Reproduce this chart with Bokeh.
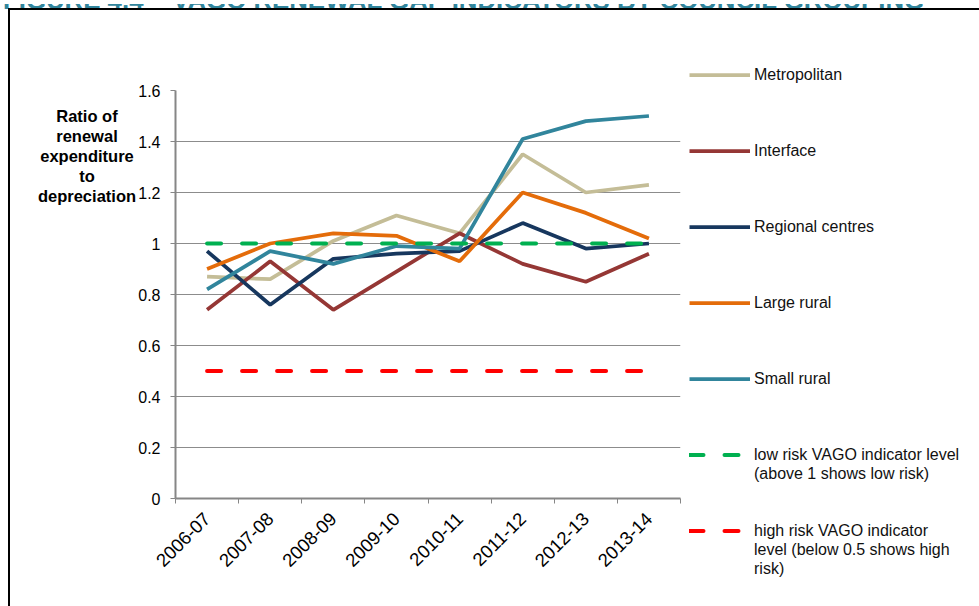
import math
from bokeh.plotting import figure
from bokeh.layouts import column
from bokeh.models import Range1d, FixedTicker, Legend, LegendItem, CustomJSTickFormatter, Div
from bokeh.embed import file_html
from bokeh.resources import INLINE

# ---- data ----
years = ["2006-07", "2007-08", "2008-09", "2009-10", "2010-11", "2011-12", "2012-13", "2013-14"]
metropolitan = [0.87, 0.86, 1.01, 1.11, 1.04, 1.35, 1.20, 1.23]
interface = [0.74, 0.93, 0.74, 0.89, 1.04, 0.92, 0.85, 0.96]
regional_centres = [0.97, 0.76, 0.94, 0.96, 0.97, 1.08, 0.98, 1.00]
large_rural = [0.90, 1.00, 1.04, 1.03, 0.93, 1.20, 1.12, 1.02]
small_rural = [0.82, 0.97, 0.92, 0.99, 0.98, 1.41, 1.48, 1.50]
low_risk = [1, 1, 1, 1, 1, 1, 1, 1]
high_risk = [0.5, 0.5, 0.5, 0.5, 0.5, 0.5, 0.5, 0.5]
y_ticks = [0, 0.2, 0.4, 0.6, 0.8, 1.0, 1.2, 1.4, 1.6]
title_text = "FIGURE 4.4 \u2013 VAGO RENEWAL GAP INDICATORS BY COUNCIL GROUPING"
y_label_lines = ["Ratio of", "renewal", "expenditure", "to", "depreciation"]
series_labels = [
    ["Metropolitan"],
    ["Interface"],
    ["Regional centres"],
    ["Large rural"],
    ["Small rural"],
    ["low risk VAGO indicator level", "(above 1 shows low risk)"],
    ["high risk VAGO indicator", "level (below 0.5 shows high", "risk)"],
]

FONT = "Liberation Sans"

# category slot centres and boundaries on a numeric axis
xs = [i + 0.5 for i in range(len(years))]
bounds = [float(i) for i in range(len(years) + 1)]

p = figure(frame_width=503, frame_height=406, output_backend="svg", toolbar_location=None,
           x_range=Range1d(0, len(years)), y_range=Range1d(0, 1.6))
p.min_border_left = 165
p.min_border_right = 301
p.min_border_top = 80
p.min_border_bottom = 110
p.outline_line_color = None
p.background_fill_color = "white"
p.border_fill_color = "white"
p.styles = {"margin-left": "8px", "border-top": "2px solid black", "border-left": "2px solid black"}

# grid
p.xgrid.grid_line_color = None
p.ygrid.grid_line_color = "#8c8c8c"
p.ygrid.grid_line_width = 1
p.ygrid.ticker = FixedTicker(ticks=y_ticks)

# y axis
p.yaxis.ticker = FixedTicker(ticks=y_ticks)
p.yaxis.formatter = CustomJSTickFormatter(code="return String(parseFloat(tick.toFixed(1)));")
p.yaxis.axis_line_color = "#868686"
p.yaxis.axis_line_width = 2
p.yaxis.major_tick_line_color = "#868686"
p.yaxis.major_tick_out = 5
p.yaxis.major_tick_in = 0
p.yaxis.minor_tick_line_color = None
p.yaxis.major_label_text_font = FONT
p.yaxis.major_label_text_font_size = "16px"
p.yaxis.major_label_text_color = "black"
p.yaxis.major_label_standoff = 10

# x axis: labels at slot centres, tick marks at slot boundaries
p.xaxis.ticker = FixedTicker(ticks=xs, minor_ticks=bounds)
p.xaxis.major_label_overrides = {x: y for x, y in zip(xs, years)}
p.xaxis.axis_line_color = "#868686"
p.xaxis.axis_line_width = 2
p.xaxis.major_tick_line_color = None
p.xaxis.minor_tick_line_color = "#868686"
p.xaxis.minor_tick_out = 5
p.xaxis.minor_tick_in = 0
p.xaxis.major_label_orientation = math.pi / 4
p.xaxis.major_label_text_font = FONT
p.xaxis.major_label_text_font_size = "18.5px"
p.xaxis.major_label_text_color = "black"
p.xaxis.major_label_standoff = 11

# series
lw = 3.75
colors = ["#C4BD97", "#953735", "#17375E", "#E46C0A", "#31859C"]
data = [metropolitan, interface, regional_centres, large_rural, small_rural]
renderers = []
for ys, c in zip(data, colors):
    renderers.append(p.line(xs, ys, line_color=c, line_width=lw))
renderers.append(p.line(xs, low_risk, line_color="#00B050", line_width=4, line_dash="14 21", line_cap="round"))
renderers.append(p.line(xs, high_risk, line_color="#FF0000", line_width=4, line_dash="14 21", line_cap="round"))

# invisible renderer used for legend continuation / spacer rows
blank = p.line([], [], line_alpha=0)

# legend laid out on a uniform row grid: each entry takes 4 rows
ROWS_PER_ENTRY = 4
items = []
for k, (labels, r) in enumerate(zip(series_labels, renderers)):
    rows = [LegendItem(label=labels[0], renderers=[r])]
    rows += [LegendItem(label=t, renderers=[blank]) for t in labels[1:]]
    if k < len(series_labels) - 1:
        rows += [LegendItem(label=" ", renderers=[blank]) for _ in range(ROWS_PER_ENTRY - len(labels))]
    items += rows

legend = Legend(items=items, location=(9, -80), orientation="vertical", ncols=1,
                glyph_width=61, glyph_height=19, label_height=19, spacing=0,
                padding=0, margin=0, label_standoff=4,
                label_text_font=FONT, label_text_font_size="16px", label_text_color="#111111",
                border_line_color=None, background_fill_alpha=0)
p.add_layout(legend, "right")

# partially visible figure caption above the box
title_div = Div(
    text=('<div style="height:8px;overflow:hidden;width:979px;">'
          '<div style="margin-top:-16px;margin-left:3px;white-space:nowrap;'
          "font-family:'Liberation Sans';font-weight:bold;font-size:25.8px;line-height:24px;"
          'color:#31859C;">' + title_text + '</div></div>'),
    width=979, height=8, margin=0)

# horizontal multi-line y-axis title
y_label_div = Div(
    text=('<div style="width:100px;text-align:center;'
          "font-family:'Liberation Sans';font-weight:bold;font-size:16.5px;line-height:20px;color:black;\">"
          + "<br>".join(y_label_lines) + '</div>'),
    width=100, height=100, margin=0,
    styles={"position": "absolute", "left": "37px", "top": "106px", "z-index": "10"})

layout = column(title_div, p, y_label_div)

open("out.html", "w").write(file_html(layout, INLINE))
